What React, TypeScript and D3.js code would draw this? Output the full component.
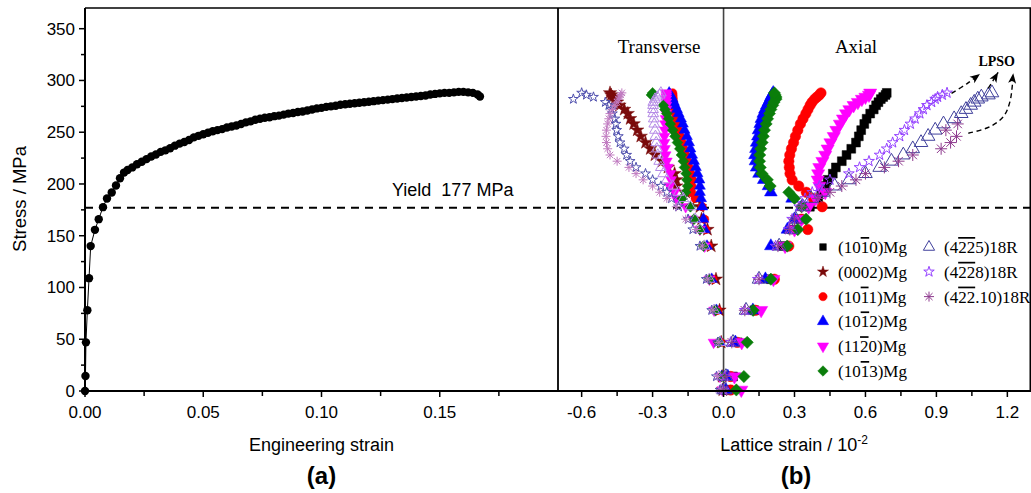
import React from 'react';
import * as d3 from 'd3';

const W = 1031;
const H = 493;

// ---------- Panel (a): engineering stress-strain ----------
const engStrain = [
  0, 0.0002, 0.0004, 0.001, 0.0017, 0.0024, 0.0042, 0.0058, 0.0076, 0.0093, 0.0113, 0.0131, 0.0148, 0.0165,
  0.018, 0.02, 0.022, 0.024, 0.026, 0.028, 0.03, 0.032, 0.034, 0.036, 0.038, 0.04, 0.042, 0.044, 0.046, 0.048,
  0.05, 0.052, 0.054, 0.056, 0.058, 0.06, 0.062, 0.064, 0.066, 0.068, 0.07, 0.072, 0.074, 0.076, 0.078, 0.08,
  0.082, 0.084, 0.086, 0.088, 0.09, 0.092, 0.094, 0.096, 0.098, 0.1, 0.102, 0.104, 0.106, 0.108, 0.11, 0.112,
  0.114, 0.116, 0.118, 0.12, 0.122, 0.124, 0.126, 0.128, 0.13, 0.132, 0.134, 0.136, 0.138, 0.14, 0.142, 0.144,
  0.146, 0.148, 0.15, 0.152, 0.154, 0.156, 0.158, 0.16, 0.162, 0.164, 0.166, 0.167,
];
const engStress = [
  0, 14.5, 47, 78, 109, 140, 155.7, 166, 177.6, 186, 191.8, 198.5, 205.6, 211,
  213.5, 216, 219, 221.5, 224, 226.5, 228.5, 231, 232.5, 234.5, 237, 239, 240.5, 242.5, 245, 246.5,
  248, 249.5, 251, 252, 253, 254.5, 255.5, 256.5, 258, 259.5, 260.5, 262, 263, 264, 264.5, 265.5,
  266, 267, 268, 268.5, 269.5, 270, 271, 272, 273, 273.5, 274.5, 275, 275.5, 276.5, 277, 277.5,
  278, 278.5, 279, 279.5, 280, 280.5, 281, 281.5, 282, 282.5, 283, 283.5, 284, 284.5, 285, 285.5,
  286.5, 287, 287.5, 288, 288, 288.5, 289, 289, 288.5, 288, 286.5, 284.5,
];
const xTicksA = [0, 0.05, 0.1, 0.15];
const xTickLabelsA = ['0.00', '0.05', '0.10', '0.15'];
const xMinorA = [0.025, 0.075, 0.125, 0.175];
const yTicks = [0, 50, 100, 150, 200, 250, 300, 350];
const yMinor = [25, 75, 125, 175, 225, 275, 325];
const yieldStress = 177;

// ---------- Panel (b): lattice strain ----------
const xTicksB = [-0.6, -0.3, 0, 0.3, 0.6, 0.9, 1.2];
const xTickLabelsB = ['-0.6', '-0.3', '0.0', '0.3', '0.6', '0.9', '1.2'];
const xMinorB = [-0.45, -0.15, 0.15, 0.45, 0.75, 1.05];

const stressLevels = [1, 14, 47, 78, 108, 140, 156, 166, 178, 186, 192, 198, 204, 210, 216, 222, 228, 234, 240, 246, 252, 258, 263, 268, 272, 276, 279, 282, 284, 286, 288];

const ax1010 = [0.02, 0.04, 0.06, 0.13, 0.2, 0.25, 0.29, 0.32, 0.365, 0.4, 0.413, 0.43, 0.44, 0.462, 0.475, 0.5, 0.52, 0.54, 0.56, 0.572, 0.582, 0.595, 0.605, 0.62, 0.635, 0.645, 0.655, 0.665, 0.675, 0.685, 0.69];
const tr0002 = [-0.003, -0.006, -0.01, -0.017, -0.032, -0.052, -0.068, -0.093, -0.1, -0.113, -0.16, -0.2, -0.2, -0.207, -0.235, -0.26, -0.29, -0.31, -0.33, -0.35, -0.365, -0.38, -0.395, -0.405, -0.42, -0.44, -0.45, -0.46, -0.47, -0.475, -0.48];
const ax1011 = [0.03, 0.03, 0.058, 0.134, 0.215, 0.276, 0.356, 0.33, 0.417, 0.38, 0.35, 0.318, 0.29, 0.281, 0.278, 0.276, 0.28, 0.287, 0.296, 0.304, 0.314, 0.325, 0.336, 0.348, 0.357, 0.366, 0.374, 0.385, 0.395, 0.405, 0.412];
const tr1011 = [-0.002, -0.006, -0.012, -0.025, -0.045, -0.065, -0.075, -0.08, -0.09, -0.12, -0.135, -0.134, -0.132, -0.138, -0.145, -0.152, -0.16, -0.168, -0.175, -0.182, -0.19, -0.195, -0.2, -0.205, -0.208, -0.21, -0.212, -0.213, -0.214, -0.214, -0.215];
const ax1012 = [0.01, 0.018, 0.05, 0.124, 0.177, 0.2, 0.27, 0.3, 0.33, 0.29, 0.2, 0.19, 0.17, 0.15, 0.14, 0.135, 0.133, 0.137, 0.14, 0.145, 0.148, 0.155, 0.16, 0.168, 0.175, 0.183, 0.19, 0.197, 0.2, 0.205, 0.21];
const tr1012 = [-0.002, -0.008, -0.015, -0.03, -0.05, -0.07, -0.08, -0.085, -0.09, -0.095, -0.1, -0.1, -0.102, -0.11, -0.117, -0.125, -0.133, -0.14, -0.146, -0.155, -0.165, -0.172, -0.18, -0.19, -0.197, -0.205, -0.21, -0.215, -0.22, -0.225, -0.23];
const ax1120 = [0.075, 0.046, 0.077, 0.159, 0.211, 0.26, 0.3, 0.33, 0.36, 0.39, 0.43, 0.405, 0.398, 0.4, 0.405, 0.418, 0.43, 0.44, 0.452, 0.466, 0.477, 0.492, 0.505, 0.518, 0.532, 0.55, 0.568, 0.585, 0.6, 0.615, 0.62];
const tr1120 = [-0.005, -0.015, -0.042, -0.04, -0.06, -0.08, -0.1, -0.13, -0.16, -0.2, -0.207, -0.228, -0.222, -0.225, -0.235, -0.24, -0.245, -0.248, -0.25, -0.25, -0.248, -0.247, -0.245, -0.243, -0.242, -0.242, -0.242, -0.242, -0.242, -0.242, -0.242];
const ax1013 = [0.054, 0.086, 0.1, 0.125, 0.2, 0.269, 0.314, 0.349, 0.33, 0.3, 0.276, 0.197, 0.185, 0.162, 0.155, 0.152, 0.153, 0.157, 0.163, 0.168, 0.173, 0.18, 0.186, 0.194, 0.2, 0.208, 0.213, 0.222, 0.222, 0.218, 0.215];
const tr1013 = [-0.002, -0.008, -0.02, -0.035, -0.06, -0.085, -0.1, -0.125, -0.14, -0.175, -0.16, -0.152, -0.155, -0.158, -0.165, -0.17, -0.178, -0.185, -0.195, -0.205, -0.215, -0.225, -0.232, -0.24, -0.248, -0.255, null, null, null, -0.305, -0.3];
const ax4225 = [0.005, 0.01, 0.04, 0.095, 0.15, 0.235, 0.285, 0.305, 0.335, 0.37, 0.42, 0.47, 0.53, 0.6, 0.66, 0.71, 0.76, 0.8, 0.835, 0.865, 0.895, 0.93, 0.975, 1.005, 1.025, 1.045, 1.06, 1.075, 1.09, 1.12, 1.135];
const tr4225 = [-0.01, -0.02, -0.015, -0.04, -0.06, -0.08, -0.1, -0.12, -0.14, -0.17, -0.19, -0.215, -0.24, -0.255, -0.265, -0.272, -0.278, -0.282, -0.285, -0.288, -0.29, -0.293, -0.295, -0.297, -0.298, -0.298, -0.297, -0.29, -0.28, -0.27, -0.265];
const ax4228 = [0, 0.005, 0.03, 0.09, 0.145, 0.22, 0.275, 0.29, 0.32, 0.345, 0.375, 0.405, 0.45, 0.53, 0.575, 0.615, 0.66, 0.69, 0.715, 0.745, 0.765, 0.79, 0.81, 0.83, 0.845, 0.86, 0.88, 0.895, 0.905, 0.925, 0.945];
const tr4228 = [-0.015, -0.03, -0.025, -0.05, -0.073, -0.1, -0.13, -0.15, -0.19, -0.22, -0.24, -0.265, -0.3, -0.33, -0.37, -0.395, -0.41, -0.42, -0.438, -0.445, -0.452, -0.455, -0.46, -0.47, -0.475, -0.485, -0.5, -0.635, -0.55, -0.58, -0.6];
const ax42210 = [0, 0.01, 0.035, 0.09, 0.15, 0.23, 0.28, 0.3, 0.33, 0.4, 0.45, 0.5, 0.56, 0.6, 0.68, 0.74, 0.8, 0.92, 0.96, 0.985, 0.94, 0.99, null, null, null, null, null, null, null, null, null];
const tr42210 = [-0.012, -0.025, -0.02, -0.045, -0.067, -0.09, -0.115, -0.16, -0.2, -0.24, -0.27, -0.3, -0.34, -0.37, -0.4, -0.45, -0.48, -0.49, -0.495, -0.497, -0.495, -0.49, -0.485, -0.48, -0.47, -0.46, -0.45, -0.445, -0.44, -0.435, -0.43];

// Legend labels: [text, overlined]
const label1010: [string, boolean][] = [['(10', false], ['1', true], ['0)Mg', false]];
const label0002: [string, boolean][] = [['(0002)Mg', false]];
const label1011: [string, boolean][] = [['(10', false], ['1', true], ['1)Mg', false]];
const label1012: [string, boolean][] = [['(10', false], ['1', true], ['2)Mg', false]];
const label1120: [string, boolean][] = [['(11', false], ['2', true], ['0)Mg', false]];
const label1013: [string, boolean][] = [['(10', false], ['1', true], ['3)Mg', false]];
const label4225: [string, boolean][] = [['(4', false], ['22', true], ['5)18R', false]];
const label4228: [string, boolean][] = [['(4', false], ['22', true], ['8)18R', false]];
const label42210: [string, boolean][] = [['(4', false], ['22', true], ['.10)18R', false]];

// LPSO annotation arrows (data coords: strain, stress)
const arrow1 = [[0.964, 287.6], [1.03, 297], [1.084, 306.3]];
const arrow2 = [[1.119, 292.4], [1.14, 300], [1.161, 307.9]];
const arrow3 = [[1.035, 249], [1.126, 255.3], [1.183, 265], [1.211, 279.5], [1.225, 306.9]];

type Shape = 'square' | 'circle' | 'triUp' | 'triDown' | 'diamond' | 'star' | 'asterisk' | 'openTri' | 'openStar';

interface Series {
  label: [string, boolean][];
  shape: Shape;
  color: string;
  trColor: string;
  open: boolean;
  size: number;
  trSize: number;
  axial: (number | null)[] | null;
  trans: (number | null)[] | null;
  legendCol: number;
  legendRow: number;
}

const series: Series[] = [
  { label: label1010, shape: 'square', color: '#000000', trColor: '#000000', open: false, size: 78, trSize: 60, axial: ax1010, trans: null, legendCol: 0, legendRow: 0 },
  { label: label0002, shape: 'star', color: '#7a0a0a', trColor: '#7a0a0a', open: false, size: 55, trSize: 55, axial: null, trans: tr0002, legendCol: 0, legendRow: 1 },
  { label: label1011, shape: 'circle', color: '#ff0000', trColor: '#ff0000', open: false, size: 85, trSize: 55, axial: ax1011, trans: tr1011, legendCol: 0, legendRow: 2 },
  { label: label1012, shape: 'triUp', color: '#0000ff', trColor: '#0000ff', open: false, size: 70, trSize: 52, axial: ax1012, trans: tr1012, legendCol: 0, legendRow: 3 },
  { label: label1120, shape: 'triDown', color: '#ff00ff', trColor: '#ff00ff', open: false, size: 75, trSize: 52, axial: ax1120, trans: tr1120, legendCol: 0, legendRow: 4 },
  { label: label1013, shape: 'diamond', color: '#0a7d0a', trColor: '#0a7d0a', open: false, size: 75, trSize: 58, axial: ax1013, trans: tr1013, legendCol: 0, legendRow: 5 },
  { label: label4225, shape: 'openTri', color: '#40409c', trColor: '#b58ae6', open: true, size: 80, trSize: 50, axial: ax4225, trans: tr4225, legendCol: 1, legendRow: 0 },
  { label: label4228, shape: 'openStar', color: '#9440ff', trColor: '#4f4fae', open: true, size: 36, trSize: 30, axial: ax4228, trans: tr4228, legendCol: 1, legendRow: 1 },
  { label: label42210, shape: 'asterisk', color: '#8e3a8e', trColor: '#c07ac0', open: true, size: 6, trSize: 4.5, axial: ax42210, trans: tr42210, legendCol: 1, legendRow: 2 },
];

function markerPath(shape: Shape, size: number): string {
  switch (shape) {
    case 'square':
      return d3.symbol(d3.symbolSquare, size)() as string;
    case 'circle':
      return d3.symbol(d3.symbolCircle, size)() as string;
    case 'triUp':
    case 'triDown':
    case 'openTri':
      return d3.symbol(d3.symbolTriangle, size)() as string;
    case 'diamond':
      return d3.symbol(d3.symbolSquare, size)() as string;
    case 'star':
    case 'openStar':
      return d3.symbol(d3.symbolStar, size)() as string;
    case 'asterisk': {
      const p = d3.path();
      const r = size;
      for (let k = 0; k < 4; k++) {
        const a = (k * Math.PI) / 4;
        p.moveTo(-r * Math.cos(a), -r * Math.sin(a));
        p.lineTo(r * Math.cos(a), r * Math.sin(a));
      }
      return p.toString();
    }
  }
  return '';
}

function rotation(shape: Shape): number {
  if (shape === 'triDown') return 180;
  if (shape === 'diamond') return 45;
  return 0;
}

function Marker({ shape, size, color, x, y, open }: { shape: Shape; size: number; color: string; x: number; y: number; open: boolean }) {
  const d = markerPath(shape, size);
  const rot = rotation(shape);
  return (
    <path
      d={d}
      transform={`translate(${x},${y}) rotate(${rot})`}
      fill={open ? 'none' : color}
      stroke={color}
      strokeWidth={open ? 1 : 0.5}
    />
  );
}

export default function App() {
  const left = 85;
  const mid = 558;
  const right = 1031;
  const top = 8;
  const bottom = 391;

  const xA = d3.scaleLinear().domain([0, 0.2]).range([left, mid]);
  const yS = d3.scaleLinear().domain([0, 370]).range([bottom, top]);
  const xB = d3.scaleLinear().domain([-0.7, 1.3]).range([mid, right]);

  const sans = "'Liberation Sans', Arial, Helvetica, sans-serif";
  const serif = "'Liberation Serif', 'Times New Roman', Times, serif";

  const curve = d3
    .line<number>()
    .x((_, i) => xA(engStrain[i]))
    .y((d) => yS(d))(engStress) as string;

  const arrowLine = d3
    .line<number[]>()
    .x((d) => xB(d[0]))
    .y((d) => yS(d[1]))
    .curve(d3.curveCatmullRom.alpha(0.5));

  const arrowHead = (pts: number[][]) => {
    const n = pts.length;
    const x1 = xB(pts[n - 2][0]);
    const y1 = yS(pts[n - 2][1]);
    const x2 = xB(pts[n - 1][0]);
    const y2 = yS(pts[n - 1][1]);
    const ang = (Math.atan2(y2 - y1, x2 - x1) * 180) / Math.PI;
    return <path d="M0,0 L-10,-4 L-7.5,0 L-10,4 Z" fill="#000" transform={`translate(${x2},${y2}) rotate(${ang})`} />;
  };

  const legendX = [823, 929];
  const legendTextX = [838, 944];
  const legendY0 = 247;
  const legendDy = 24.8;

  return (
    <svg width={W} height={H} style={{ position: 'absolute', left: 0, top: 0, background: '#fff' }}>
      <rect x={0} y={0} width={W} height={H} fill="#fff" />

      {/* Vertical zero line in panel b */}
      <line x1={xB(0)} x2={xB(0)} y1={top} y2={bottom} stroke="#444" strokeWidth={1.6} />

      {/* Yield dashed line */}
      <line x1={left} x2={right} y1={yS(yieldStress)} y2={yS(yieldStress)} stroke="#000" strokeWidth={2} strokeDasharray="8,6" />

      {/* Panel a curve */}
      <path d={curve} fill="none" stroke="#000" strokeWidth={1} />
      {engStrain.map((e, i) => (
        <circle key={`a${i}`} cx={xA(e)} cy={yS(engStress[i])} r={4.2} fill="#000" />
      ))}

      {/* Panel b data */}
      {series.map((s, si) => (
        <g key={`s${si}`}>
          {s.trans &&
            s.trans.map((v, i) =>
              v === null ? null : (
                <Marker key={`t${i}`} shape={s.shape} size={s.trSize} color={s.trColor} x={xB(v)} y={yS(stressLevels[i])} open={s.open} />
              )
            )}
          {s.axial &&
            s.axial.map((v, i) =>
              v === null ? null : (
                <Marker key={`x${i}`} shape={s.shape} size={s.size} color={s.color} x={xB(v)} y={yS(stressLevels[i])} open={s.open} />
              )
            )}
        </g>
      ))}

      {/* LPSO arrows */}
      {[arrow1, arrow2, arrow3].map((a, i) => (
        <g key={`ar${i}`}>
          <path d={arrowLine(a) as string} fill="none" stroke="#000" strokeWidth={1.4} strokeDasharray="5,3.5" />
          {arrowHead(a)}
        </g>
      ))}
      <text x={xB(1.155)} y={66} fontFamily={serif} fontWeight="bold" fontSize={14} textAnchor="middle">LPSO</text>

      {/* Frames */}
      <line x1={left} x2={right} y1={top} y2={top} stroke="#000" strokeWidth={1.5} />
      <line x1={left} x2={right} y1={bottom} y2={bottom} stroke="#000" strokeWidth={2} />
      <line x1={left} x2={left} y1={top} y2={bottom} stroke="#000" strokeWidth={2} />
      <line x1={mid} x2={mid} y1={top} y2={bottom} stroke="#000" strokeWidth={1.8} />
      <line x1={right - 0.75} x2={right - 0.75} y1={top} y2={bottom} stroke="#000" strokeWidth={1.5} />

      {/* Panel a axes */}
      {yTicks.map((t) => (
        <g key={`yt${t}`}>
          <line x1={left - 6} x2={left} y1={yS(t)} y2={yS(t)} stroke="#000" strokeWidth={1.5} />
          <text x={left - 10} y={yS(t) + 6} fontFamily={sans} fontSize={17} textAnchor="end">{t}</text>
        </g>
      ))}
      {yMinor.map((t) => (
        <line key={`ym${t}`} x1={left - 4} x2={left} y1={yS(t)} y2={yS(t)} stroke="#000" strokeWidth={1.5} />
      ))}
      {xTicksA.map((t, i) => (
        <g key={`xa${i}`}>
          <line x1={xA(t)} x2={xA(t)} y1={bottom} y2={bottom + 6} stroke="#000" strokeWidth={1.5} />
          <text x={xA(t)} y={bottom + 27} fontFamily={sans} fontSize={17} textAnchor="middle">{xTickLabelsA[i]}</text>
        </g>
      ))}
      {xMinorA.map((t, i) => (
        <line key={`xam${i}`} x1={xA(t)} x2={xA(t)} y1={bottom} y2={bottom + 5} stroke="#000" strokeWidth={1.5} />
      ))}

      {/* Panel b axes */}
      {xTicksB.map((t, i) => (
        <g key={`xb${i}`}>
          <line x1={xB(t)} x2={xB(t)} y1={bottom} y2={bottom + 6} stroke="#000" strokeWidth={1.5} />
          <text x={xB(t)} y={bottom + 27} fontFamily={sans} fontSize={17} textAnchor="middle">{xTickLabelsB[i]}</text>
        </g>
      ))}
      {xMinorB.map((t, i) => (
        <line key={`xbm${i}`} x1={xB(t)} x2={xB(t)} y1={bottom} y2={bottom + 5} stroke="#000" strokeWidth={1.5} />
      ))}

      {/* Axis titles */}
      <text transform={`translate(26,${199}) rotate(-90)`} fontFamily={sans} fontSize={18.5} textAnchor="middle">Stress / MPa</text>
      <text x={xA(0.1)} y={451} fontFamily={sans} fontSize={18} textAnchor="middle">Engineering strain</text>
      <text x={794} y={451} fontFamily={sans} fontSize={18} textAnchor="middle">
        Lattice strain / 10<tspan dy={-7} fontSize={12}>-2</tspan>
      </text>
      <text x={xA(0.1)} y={484} fontFamily={sans} fontSize={24} fontWeight="bold" textAnchor="middle">(a)</text>
      <text x={796} y={484} fontFamily={sans} fontSize={24} fontWeight="bold" textAnchor="middle">(b)</text>

      {/* Annotations */}
      <text x={392} y={196} fontFamily={sans} fontSize={18} style={{ whiteSpace: 'pre' }} xmlSpace="preserve">Yield  177 MPa</text>
      <text x={659} y={53} fontFamily={serif} fontSize={19} textAnchor="middle">Transverse</text>
      <text x={856} y={53} fontFamily={serif} fontSize={19} textAnchor="middle">Axial</text>

      {/* Legend */}
      {series.map((s, si) => {
        const cy = legendY0 + s.legendRow * legendDy;
        const lsize = s.shape === 'asterisk' ? 5 : s.shape === 'openTri' ? 55 : s.shape === 'openStar' ? 34 : s.shape === 'square' ? 44 : s.shape === 'circle' ? 55 : s.shape === 'star' ? 38 : 55;
        return (
          <g key={`lg${si}`}>
            <Marker shape={s.shape} size={lsize} color={s.color} x={legendX[s.legendCol]} y={cy} open={s.open} />
            <text x={legendTextX[s.legendCol]} y={cy + 6} fontFamily={serif} fontSize={17}>
              {s.label.map(([txt, ov], k) => (
                <tspan key={k} style={ov ? { textDecoration: 'overline' } : undefined}>{txt}</tspan>
              ))}
            </text>
          </g>
        );
      })}
    </svg>
  );
}
